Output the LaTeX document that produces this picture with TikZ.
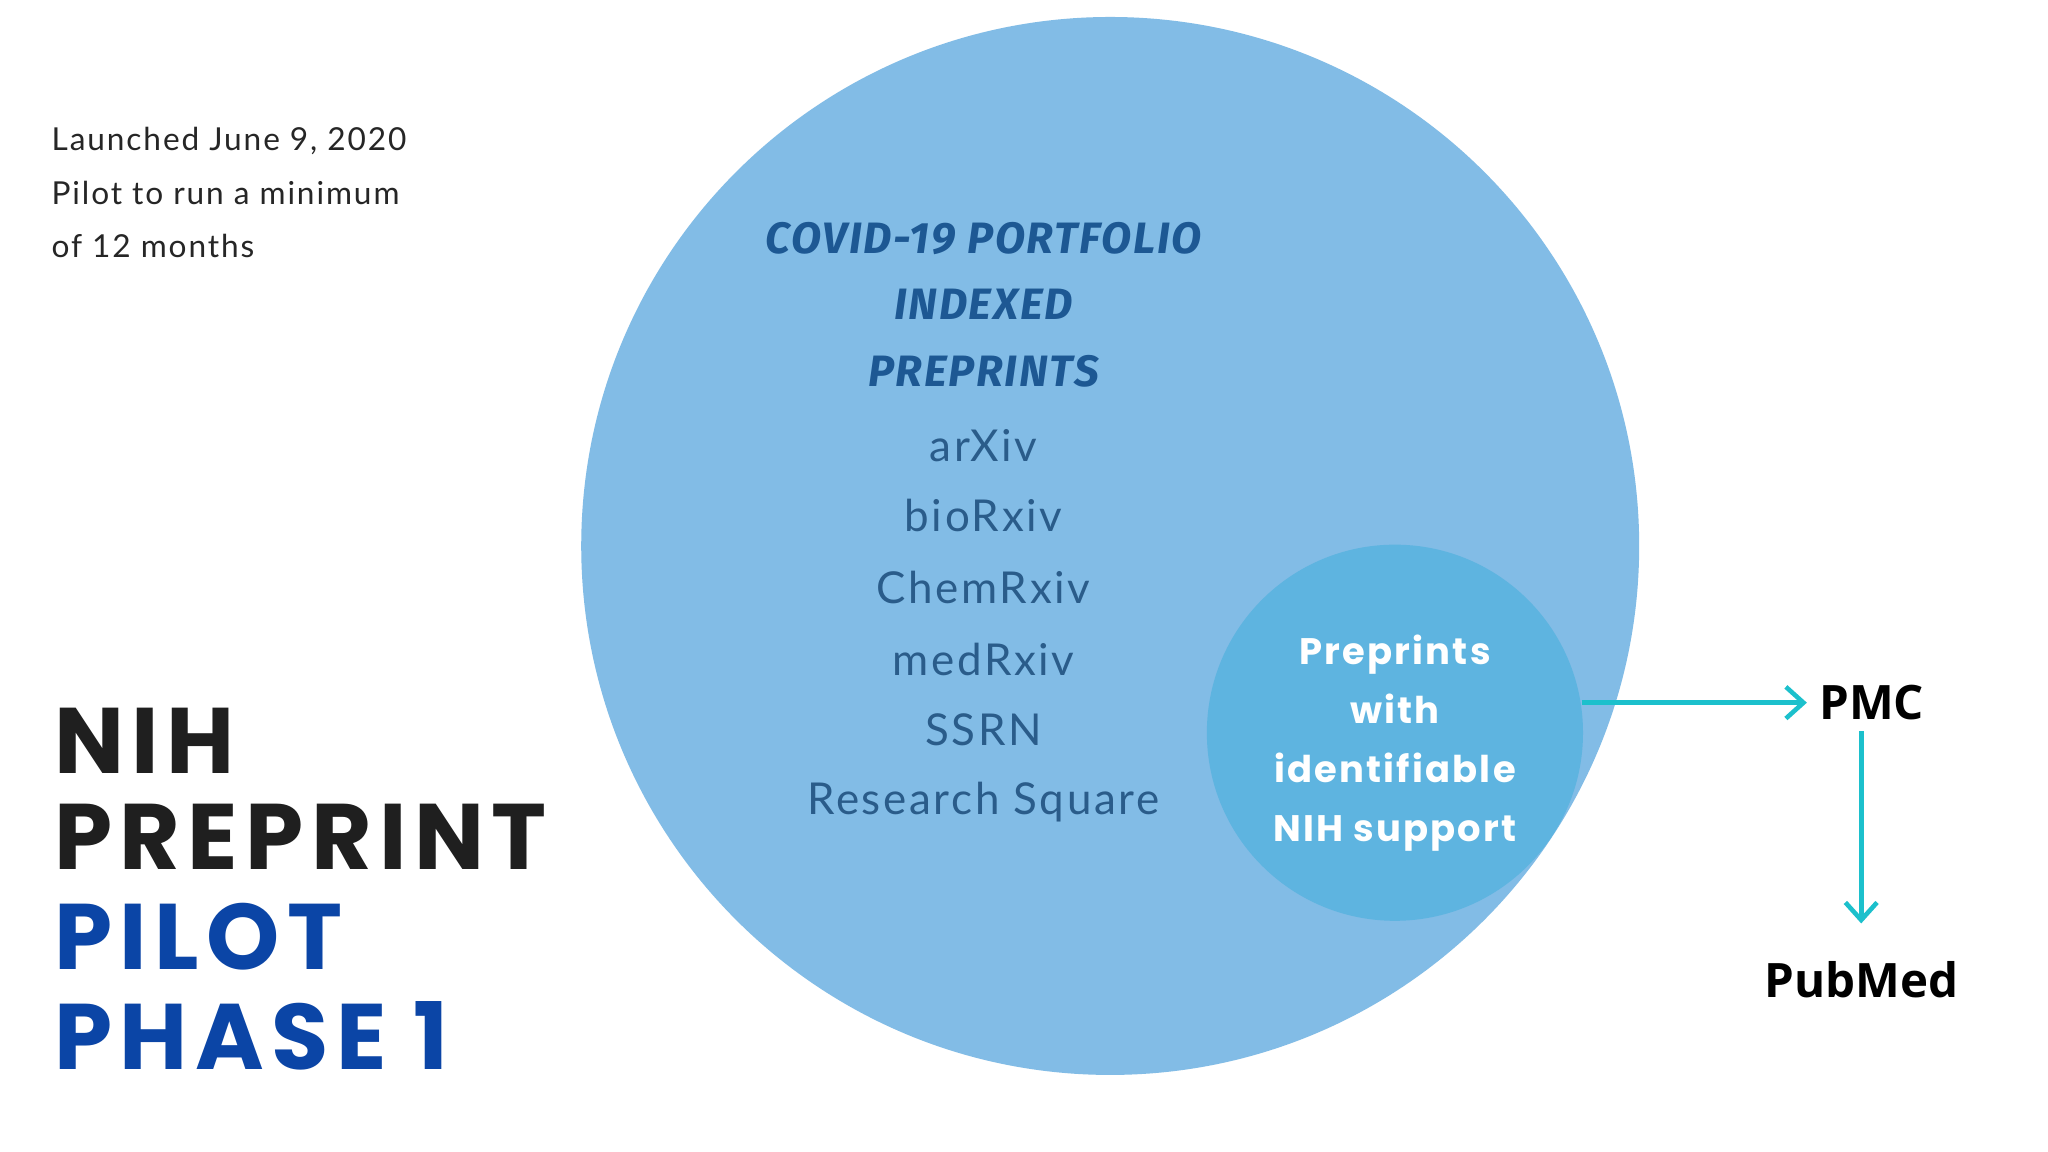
\documentclass[tikz,border=0pt]{standalone}
\usepackage{fontspec}
\setmainfont{Open Sans}
\newfontfamily\pop{Poppins}
\newfontfamily\popw[LetterSpace=6]{Poppins}
\newfontfamily\popsp[LetterSpace=8]{Poppins}
\newfontfamily\lato[LetterSpace=6]{Lato}
\newfontfamily\latol[LetterSpace=6]{Lato Light}
\newfontfamily\fira[LetterSpace=4]{Fira Sans}
\definecolor{bigc}{HTML}{82BCE6}
\definecolor{smallc}{HTML}{5EB4E0}
\definecolor{headc}{HTML}{1D5893}
\definecolor{listc}{HTML}{2A5C8A}
\definecolor{titleb}{HTML}{0B45A6}
\definecolor{teal}{HTML}{1CC0CC}
\usetikzlibrary{arrows.meta}
\begin{document}
\begin{tikzpicture}[x=0.01306cm,y=-0.01306cm,
  head/.style={text=headc,font=\fira\fontsize{12.5}{14}\selectfont\bfseries\itshape},
  item/.style={text=listc,font=\lato\fontsize{12.5}{14}\selectfont},
  ttl/.style={anchor=west,font=\popsp\fontsize{26.5}{28}\selectfont\bfseries},
  arr/.style={teal,line width=1.3pt,-{Straight Barb[length=5pt,width=9pt]}}]
\useasboundingbox[fill=white] (0,0) rectangle (1568,882);
\node[circle,fill=bigc,minimum size=810*0.01306cm,inner sep=0] (big) at (850,418) {};
\node[circle,fill=smallc,minimum size=288*0.01306cm,inner sep=0] (small) at (1068,561) {};
\node[head] (h1) at (753,183) {COVID-19 PORTFOLIO};
\node[head] (h2) at (753,233) {INDEXED};
\node[head] (h3) at (753,284) {PREPRINTS};
\node[item] (i1) at (753,341) {arXiv};
\node[item] (i2) at (753,395) {bioRxiv};
\node[item] (i3) at (753,450) {ChemRxiv};
\node[item] (i4) at (753,505) {medRxiv};
\node[item] (i5) at (753,559) {SSRN};
\node[item] (i6) at (753,614) {Research Square};
\node[text=white,align=center,font=\popw\fontsize{10.5}{16.8}\selectfont\bfseries] (pw) at (1068,569) {Preprints\\with\\identifiable\\NIH support};
\node[anchor=north west,align=left,font=\lato\fontsize{9}{15.2}\selectfont,text=black!85] (launch) at (30,88) {Launched June 9, 2020\\Pilot to run a minimum\\of 12 months};
\node[ttl,text=black!88] (t1) at (32,567) {NIH};
\node[ttl,text=black!88] (t2) at (32,641) {PREPRINT};
\node[ttl,text=titleb] (t3) at (32,717) {PILOT};
\node[ttl,text=titleb] (t4) at (32,793) {PHASE 1};
\node[font=\fontsize{13.5}{15}\selectfont\bfseries] (pmc) at (1433,538) {PMC};
\node[font=\fontsize{13.5}{15}\selectfont\bfseries] (pub) at (1425,750) {PubMed};
\coordinate (s) at (1211,538);
\draw[arr] (s) -- (pmc.west);
\draw[arr] (1425,560) -- (1425,707);
\end{tikzpicture}
\end{document}
